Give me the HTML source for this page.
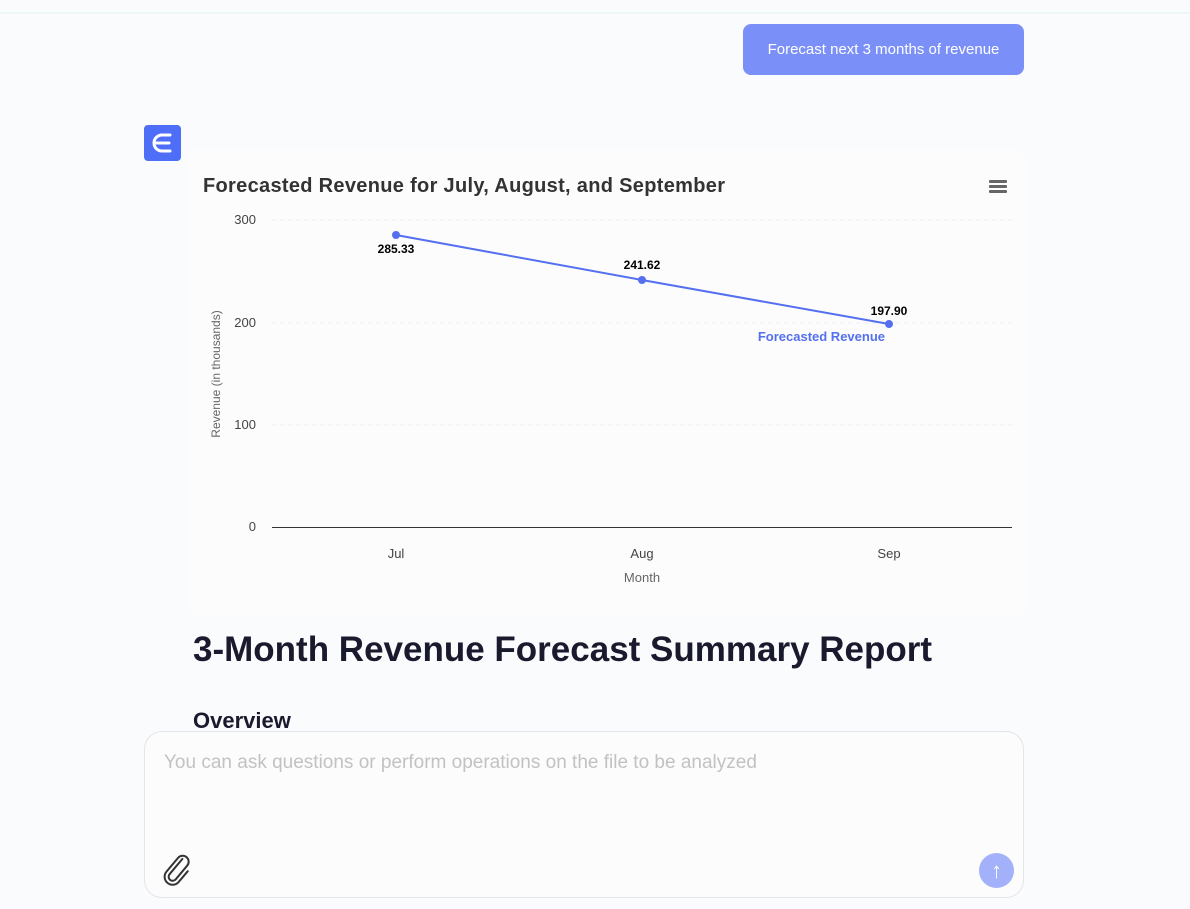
<!DOCTYPE html>
<html><head><meta charset="utf-8"><style>
body{margin:0;width:1190px;height:909px;background:#fafbfc;font-family:"Liberation Sans",sans-serif;position:relative;overflow:hidden}
.abs{position:absolute}
</style></head><body>
<div class="abs" style="left:0;top:12px;width:1190px;height:2px;background:#eef6f8"></div>
<div class="abs" style="left:743px;top:24px;width:281px;height:51px;background:#7b8ff9;border-radius:8px;color:#fff;font-size:15px;line-height:51px;text-align:center">Forecast next 3 months of revenue</div>
<div class="abs" style="left:144px;top:125px;width:37px;height:36px;background:#4f6ef7;border-radius:4px"></div>
<svg class="abs" style="left:144px;top:125px" width="37" height="36"><path d="M26 10 H18 A8 8 0 0 0 18 26 H26 M11 18 H25" fill="none" stroke="#fff" stroke-width="3" stroke-linecap="round"/></svg>
<div class="abs" style="left:188px;top:148px;width:838px;height:470px;background:#fcfcfd;border-radius:12px"></div>
<svg class="abs" style="left:0;top:0" width="1190" height="909">
<text x="203" y="192" font-size="20" font-weight="bold" fill="#333" font-family="Liberation Sans" textLength="522">Forecasted Revenue for July, August, and September</text>
<g fill="#666"><rect x="989" y="180" width="18" height="3" rx="1"/><rect x="989" y="185" width="18" height="3" rx="1"/><rect x="989" y="190" width="18" height="3" rx="1"/></g>
<g stroke="#eee" stroke-dasharray="4,4"><line x1="272" y1="220" x2="1012" y2="220"/><line x1="272" y1="323" x2="1012" y2="323"/><line x1="272" y1="425" x2="1012" y2="425"/></g>
<line x1="272" y1="527.5" x2="1012" y2="527.5" stroke="#333"/>
<g font-size="13" fill="#444" text-anchor="end" font-family="Liberation Sans"><text x="256" y="224">300</text><text x="256" y="327">200</text><text x="256" y="429">100</text><text x="256" y="531">0</text></g>
<g font-size="13" fill="#444" text-anchor="middle" font-family="Liberation Sans"><text x="396" y="558">Jul</text><text x="642" y="558">Aug</text><text x="889" y="558">Sep</text></g>
<text x="642" y="582" font-size="13" fill="#666" text-anchor="middle">Month</text>
<text transform="translate(220,374) rotate(-90)" font-size="12" fill="#666" text-anchor="middle">Revenue (in thousands)</text>
<polyline points="396,235 642,280 889,324" fill="none" stroke="#5470f0" stroke-width="2"/>
<g fill="#5470f0"><circle cx="396" cy="235" r="4"/><circle cx="642" cy="280" r="4"/><circle cx="889" cy="324" r="4"/></g>
<g font-size="12" font-weight="bold" fill="#000" text-anchor="middle"><text x="396" y="253">285.33</text><text x="642" y="269">241.62</text><text x="889" y="315">197.90</text></g>
<text x="885" y="341" font-size="13" font-weight="bold" fill="#5470f0" text-anchor="end">Forecasted Revenue</text>
<g transform="translate(177,870) rotate(40)"><path d="M-3 -12 V8 A4 4 0 0 0 5 8 V-10 A6 6 0 0 0 -7 -10 V8 A8 8 0 0 0 9 8 V-6" fill="none" stroke="#333" stroke-width="2" stroke-linecap="round"/></g>
</svg>
<div class="abs" style="left:193px;top:630px;font-size:35px;font-weight:bold;color:#1a1a2e">3-Month Revenue Forecast Summary Report</div>
<div class="abs" style="left:193px;top:708px;font-size:22px;font-weight:bold;color:#1a1a2e">Overview</div>
<div class="abs" style="left:144px;top:731px;width:878px;height:165px;background:#fcfcfd;border:1px solid #e3e6ea;border-radius:18px"></div>
<div class="abs" style="left:164px;top:752px;font-size:19px;color:#c2c2c2">You can ask questions or perform operations on the file to be analyzed</div>
<svg class="abs" style="left:160px;top:852px" width="36" height="36"><g transform="translate(17,18) rotate(40)"><path d="M-3 -12 V8 A4 4 0 0 0 5 8 V-10 A6 6 0 0 0 -7 -10 V8 A8 8 0 0 0 9 8 V-6" fill="none" stroke="#333" stroke-width="2" stroke-linecap="round"/></g></svg>
<div class="abs" style="left:979px;top:853px;width:35px;height:35px;border-radius:50%;background:#a3b1fb;color:#fff;font-size:22px;line-height:35px;text-align:center">↑</div>
</body></html>
